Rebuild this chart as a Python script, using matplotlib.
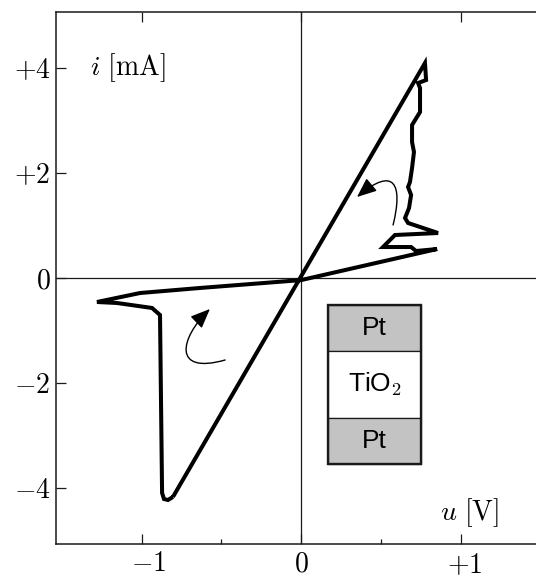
import matplotlib
matplotlib.use('Agg')
import matplotlib.pyplot as plt
from matplotlib.path import Path
from matplotlib.patches import FancyArrowPatch, Rectangle
import matplotlib.transforms as mtransforms

plt.rcParams['mathtext.fontset'] = 'cm'
plt.rcParams['font.family'] = ['DejaVu Serif']

# ---- data (u in V, i in mA) ----
u_loop = [-0.803, 0.777, 0.784, 0.734, 0.746, 0.746, 0.696, 0.696, 0.708, 0.696,
          0.683, 0.671, 0.690, 0.677, 0.652, 0.671, 0.859, 0.589, 0.514, 0.690,
          0.721, 0.853, 0.0, -0.633, -1.009, -1.279, -1.154, -0.934, -0.884,
          -0.871, -0.859, -0.834, -0.803]
i_loop = [-4.171, 4.095, 3.771, 3.714, 3.619, 3.162, 2.914, 2.590, 2.400, 2.095,
          1.829, 1.733, 1.581, 1.333, 1.143, 1.048, 0.857, 0.819, 0.590, 0.590,
          0.514, 0.552, -0.04, -0.190, -0.286, -0.457, -0.476, -0.571, -0.705,
          -4.095, -4.210, -4.229, -4.171]

x_ticks = [-1, 0, 1]
x_ticklabels = ['$-1$', '$0$', '$+1$']
x_minor_ticks = [-0.5, 0.5]
y_ticks = [-4, -2, 0, 2, 4]
y_ticklabels = ['$-4$', '$-2$', '$0$', '$+2$', '$+4$']
layers = ['Pt', 'TiO$_2$', 'Pt']

FS = 20
fig = plt.figure(figsize=(5.36, 5.78), dpi=100)
ax = fig.add_axes([56/536, 34/578, 480/536, 532/578])
ax.set_xlim(-1.536, 1.473)
ax.set_ylim(-5.067, 5.067)

ink = '#1a1a1a'
for s in ['left', 'top', 'bottom']:
    ax.spines[s].set_linewidth(1.1)
    ax.spines[s].set_color(ink)
ax.spines['right'].set_visible(False)

ax.axhline(0, color=ink, lw=0.9, zorder=1)
ax.axvline(0, color=ink, lw=0.9, zorder=1)

ax.set_xticks(x_ticks, labels=['']*len(x_ticks))
ax.set_xticks(x_minor_ticks, minor=True)
ax.set_yticks(y_ticks, labels=y_ticklabels)
ax.tick_params(which='major', direction='in', length=7.5, width=0.9, color=ink,
               top=True, right=False, labelsize=FS, pad=4)
ax.tick_params(which='minor', direction='in', length=3.8, width=0.9, color=ink,
               top=False, right=False)

# x tick labels drawn as text (individual offsets as in the reference)
offs = [(7, 0), (0, 0), (4, -2)]
for x, lab, (dx, dy) in zip(x_ticks, x_ticklabels, offs):
    tr = ax.get_xaxis_transform() + mtransforms.ScaledTranslation(
        dx/100, (-6 + dy)/100, fig.dpi_scale_trans)
    ax.text(x, 0, lab, transform=tr, ha='center', va='top', fontsize=FS)

# main curve
ax.plot(u_loop, i_loop, color='black', lw=2.9, solid_joinstyle='miter',
        solid_capstyle='butt', zorder=3)

# direction arrows
arrow_paths = [
    [(0.577, 1.010), (0.639, 1.771), (0.589, 2.152), (0.351, 1.543)],
    [(-0.476, -1.562), (-0.809, -1.848), (-0.759, -1.143), (-0.571, -0.590)],
]
for pts in arrow_paths:
    p = Path(pts, [Path.MOVETO, Path.CURVE4, Path.CURVE4, Path.CURVE4])
    ar = FancyArrowPatch(path=p, arrowstyle='-|>,head_length=1.2,head_width=0.5',
                         mutation_scale=10, color='black', lw=1.0, zorder=4)
    ax.add_patch(ar)

# inset layer stack
bx0, bx1 = 0.169, 0.752
edges = [-0.514, -1.390, -2.667, -3.543]
fills = ['#c3c3c3', 'white', '#c3c3c3']
for k in range(3):
    ax.add_patch(Rectangle((bx0, edges[k+1]), bx1 - bx0, edges[k] - edges[k+1],
                           facecolor=fills[k], edgecolor=ink, lw=0.9, zorder=5))
    ax.text((bx0 + bx1)/2, (edges[k] + edges[k+1])/2, layers[k],
            ha='center', va='center', fontsize=FS - 1,
            family=['Liberation Sans', 'DejaVu Sans'], zorder=6)
ax.add_patch(Rectangle((bx0, edges[3]), bx1 - bx0, edges[0] - edges[3],
                       facecolor='none', edgecolor=ink, lw=1.7, zorder=6))

# axis labels
ax.text(-1.323, 4.0, r'$i\ [\mathrm{mA}]$', ha='left', va='center', fontsize=FS)
ax.text(0.871, -4.476, r'$u\ [\mathrm{V}]$', ha='left', va='center', fontsize=FS)

fig.savefig('out.png', dpi=100)
